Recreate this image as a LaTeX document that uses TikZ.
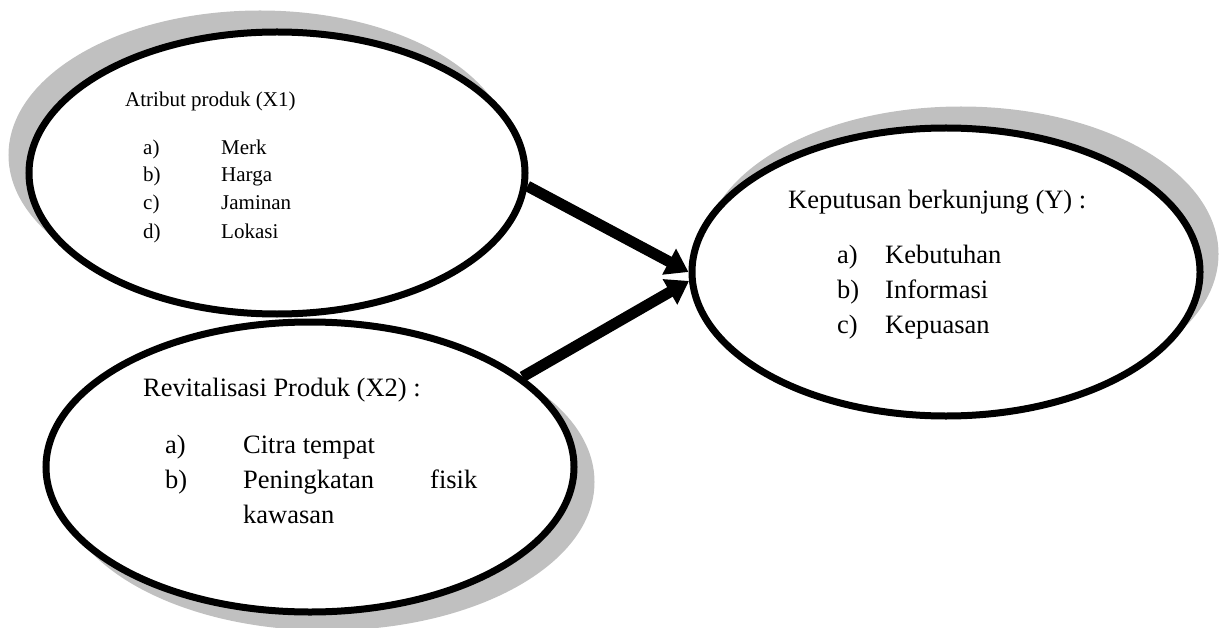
\documentclass[tikz,border=0pt]{standalone}
\usepackage{fontspec}
\setmainfont{Liberation Serif}
\usetikzlibrary{shapes.geometric,arrows.meta,shadows}
\definecolor{shadowgrey}{HTML}{C0C0C0}
\begin{document}
\begin{tikzpicture}[x=1pt,y=-1pt,
  oval/.style={ellipse, draw=black, fill=white, line width=7pt, inner sep=0pt},
  shd/.style 2 args={general shadow={shadow xshift=#1, shadow yshift=#2,
      fill=shadowgrey, draw=shadowgrey, line width=7pt}},
  small/.style={anchor=base west, inner sep=0pt, font=\fontsize{21}{25}\selectfont},
  big/.style={anchor=base west, inner sep=0pt, font=\fontsize{26.5}{31}\selectfont},
  conn/.style={line width=11pt, -{Triangle[length=22pt,width=28pt]}}]
\useasboundingbox (0,0) rectangle (1230,628);

% ellipses
\node[oval, shd={-17pt}{18pt}, minimum width=496pt, minimum height=282pt] (e1) at (277,173) {};
\node[oval, shd={17pt}{-15pt}, minimum width=528pt, minimum height=290pt] (e2) at (310,467) {};
\node[oval, shd={15pt}{18pt}, minimum width=508pt, minimum height=288pt] (e3) at (946,272) {};

% texts of ellipse 1
\node[small] (t1) at (125,107) {Atribut produk (X1)};
\node[small] (t1a) at (143,155) {a)};
\node[small] (t1am) at (221,155) {Merk};
\node[small] (t1b) at (143,182) {b)};
\node[small] (t1bm) at (221,182) {Harga};
\node[small] (t1c) at (143,210) {c)};
\node[small] (t1cm) at (221,210) {Jaminan};
\node[small] (t1d) at (143,238) {d)};
\node[small] (t1dm) at (221,238) {Lokasi};

% texts of ellipse 2
\node[big] (t2) at (143,396) {Revitalisasi Produk (X2) :};
\node[big] (t2a) at (165,453) {a)};
\node[big] (t2am) at (243,453) {Citra tempat};
\node[big] (t2b) at (165,488) {b)};
\node[big] (t2bm) at (243,488) {Peningkatan};
\node[big] (t2bf) at (430,488) {fisik};
\node[big] (t2bk) at (243,523) {kawasan};

% texts of ellipse 3
\node[big] (t3) at (788,209) {Keputusan berkunjung (Y) :};
\node[big] (t3a) at (837,263) {a)};
\node[big] (t3am) at (885,263) {Kebutuhan};
\node[big] (t3b) at (837,298) {b)};
\node[big] (t3bm) at (885,298) {Informasi};
\node[big] (t3c) at (837,333) {c)};
\node[big] (t3cm) at (885,333) {Kepuasan};

% connectors
\draw[conn] (e1.-3.5) -- (e3.west);
\draw[conn] (e2.23) -- (e3.182);
\end{tikzpicture}
\end{document}
